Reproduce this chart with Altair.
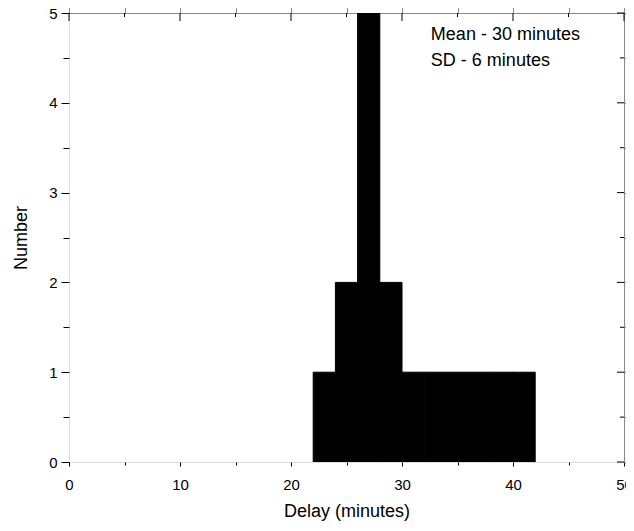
import altair as alt
import pandas as pd

# Histogram bins (minutes) and counts
bin_start = [22, 24, 26, 28, 30, 32, 34, 36, 38, 40]
bin_end = [24, 26, 28, 30, 32, 34, 36, 38, 40, 42]
counts = [1, 2, 5, 2, 1, 1, 1, 1, 1, 1]

# Annotation
ann_text = ["Mean - 30 minutes", "SD - 6 minutes"]
ann_x = [32.6, 32.6]
ann_y = [4.75, 4.47]

x_major = [0, 10, 20, 30, 40, 50]
x_minor = [5, 15, 25, 35, 45]
y_major = [0, 1, 2, 3, 4, 5]
y_minor = [0.5, 1.5, 2.5, 3.5, 4.5]

W, H = 555, 449
FONT = "Liberation Sans"

bars_df = pd.DataFrame({"start": bin_start, "end": bin_end, "count": counts,
                        "base": [0] * len(counts)})
ann_df = pd.DataFrame({"text": ann_text, "x": ann_x, "y": ann_y})
xmaj_df = pd.DataFrame({"v": x_major})
xmin_df = pd.DataFrame({"v": x_minor})
ymaj_df = pd.DataFrame({"v": y_major})
ymin_df = pd.DataFrame({"v": y_minor})

xs = alt.Scale(domain=[0, 50], nice=False, zero=False)
ys = alt.Scale(domain=[0, 5], nice=False)


def ax(values, size, labels=False, title=None, orient="bottom",
       pad=4, tpad=4):
    kw = dict(values=values, tickSize=size, labels=labels, grid=False,
              domain=False, tickColor="black", tickWidth=1, orient=orient,
              title=title)
    if labels:
        kw.update(labelFont=FONT, labelFontSize=15, labelColor="black",
                  labelPadding=pad, labelFlush=False, labelOverlap=False)
    if title:
        kw.update(titleFont=FONT, titleFontSize=18, titleFontWeight="normal",
                  titleColor="black", titlePadding=tpad)
    return alt.Axis(**kw)


bars = alt.Chart(bars_df).mark_bar(color="black", clip=True, stroke="black",
                                   strokeWidth=1).encode(
    x=alt.X("start:Q", scale=xs,
            axis=ax(x_major, 4, labels=True, title="Delay (minutes)",
                    pad=11, tpad=10)),
    x2="end:Q",
    y=alt.Y("count:Q", scale=ys,
            axis=ax(y_major, 8, labels=True, title="Number", orient="left",
                    pad=4, tpad=18)),
    y2="base:Q",
)

minor = alt.Chart(bars_df).mark_bar(opacity=0).encode(
    x=alt.X("start:Q", scale=xs, axis=ax(x_minor, 3)),
    x2="end:Q",
    y=alt.Y("count:Q", scale=ys, axis=ax(y_minor, 6, orient="left")),
    y2="base:Q",
)

# Inward mirror ticks on the top and right edges
top_major = alt.Chart(xmaj_df).mark_rule(color="black", strokeWidth=1).encode(
    x=alt.X("v:Q", scale=xs), y=alt.value(0), y2=alt.value(8))
top_minor = alt.Chart(xmin_df).mark_rule(color="black", strokeWidth=1).encode(
    x=alt.X("v:Q", scale=xs), y=alt.value(0), y2=alt.value(4))
right_major = alt.Chart(ymaj_df).mark_rule(color="black", strokeWidth=1).encode(
    y=alt.Y("v:Q", scale=ys), x=alt.value(W), x2=alt.value(W - 7))
right_minor = alt.Chart(ymin_df).mark_rule(color="black", strokeWidth=1).encode(
    y=alt.Y("v:Q", scale=ys), x=alt.value(W), x2=alt.value(W - 4))

text = alt.Chart(ann_df).mark_text(
    align="left", baseline="middle", font=FONT, fontSize=18, color="black"
).encode(
    x=alt.X("x:Q", scale=xs),
    y=alt.Y("y:Q", scale=ys),
    text="text:N",
)

chart = (
    alt.layer(bars, minor, top_major, top_minor, right_major, right_minor, text)
    .resolve_axis(x="independent", y="independent")
    .properties(
        width=W, height=H,
        autosize=alt.AutoSizeParams(type="none"),
        padding={"left": 61, "top": 5, "right": 2, "bottom": 61},
    )
    .configure_view(stroke="black", strokeWidth=1)
    .configure(background="white")
)

chart.save("out.html", embed_options={"renderer": "svg", "actions": False})
